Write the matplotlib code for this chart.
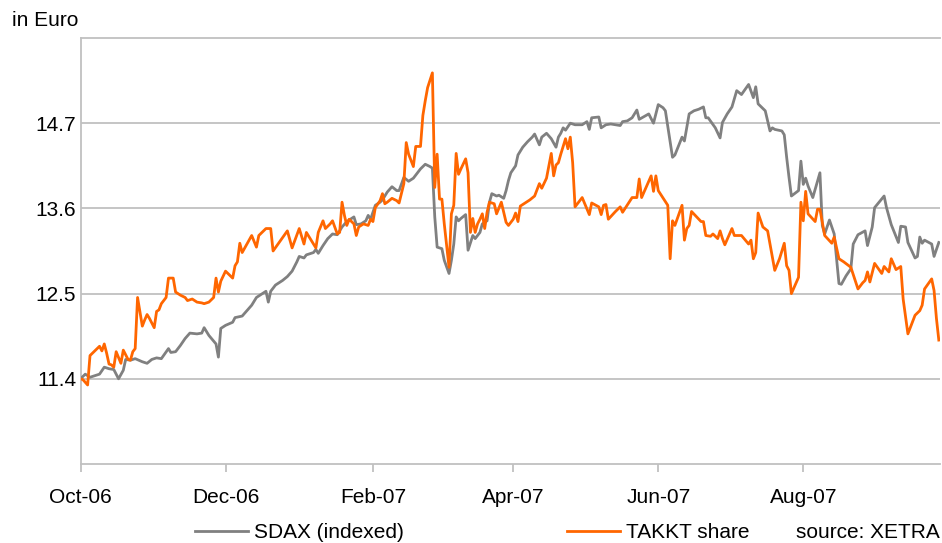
import matplotlib
matplotlib.use("Agg")
import matplotlib.pyplot as plt
import pandas as pd

plt.rcParams["font.family"] = ["Liberation Sans", "DejaVu Sans"]

# trading days, counted in days since 2006-10-01, and closing values (in Euro)
sdax_day = [0, 2, 4, 6, 8, 10, 12, 14, 16, 18, 19, 21, 23, 26, 28, 30, 32, 34, 37, 38,
            40, 42, 44, 46, 49, 51, 52, 54, 57, 58, 59, 61, 64, 65, 68, 70, 72, 74, 76, 78,
            79, 80, 82, 85, 87, 89, 91, 92, 94, 95, 98, 99, 100, 102, 104, 106, 108, 110, 112, 115,
            116, 118, 120, 121, 122, 124, 126, 127, 129, 131, 133, 134, 136, 138, 140, 141, 143, 145, 147, 148,
            149, 150, 152, 153, 155, 156, 157, 158, 159, 160, 162, 163, 165, 166, 168, 169, 171, 172, 173, 175,
            176, 178, 179, 180, 181, 183, 184, 186, 188, 190, 191, 193, 194, 196, 198, 200, 201, 202, 203, 204,
            206, 208, 211, 213, 214, 215, 218, 219, 221, 223, 227, 228, 230, 232, 234, 235, 239, 241, 243, 245,
            246, 249, 250, 253, 254, 256, 258, 260, 262, 263, 264, 267, 269, 270, 272, 274, 276, 278, 281, 283,
            284, 285, 288, 290, 291, 292, 295, 296, 297, 298, 299, 302, 303, 304, 305, 306, 308, 311, 312, 313,
            315, 317, 319, 320, 322, 324, 325, 327, 330, 331, 333, 334, 338, 339, 341, 344, 345, 347, 348, 351,
            352, 353, 354, 355, 358, 359, 361]
sdax_val = [11.40, 11.46, 11.42, 11.44, 11.46, 11.55, 11.53, 11.52, 11.40, 11.51, 11.65, 11.64, 11.66, 11.62, 11.60, 11.65, 11.67, 11.66, 11.79, 11.74,
            11.75, 11.83, 11.92, 11.99, 11.98, 11.99, 12.06, 11.96, 11.85, 11.68, 12.05, 12.09, 12.13, 12.19, 12.21, 12.28, 12.35, 12.45, 12.49, 12.53,
            12.39, 12.53, 12.61, 12.67, 12.72, 12.79, 12.91, 12.98, 12.96, 13.00, 13.03, 13.07, 13.02, 13.12, 13.21, 13.27, 13.26, 13.36, 13.43, 13.49,
            13.39, 13.40, 13.44, 13.51, 13.46, 13.64, 13.68, 13.71, 13.81, 13.88, 13.83, 13.83, 14.00, 13.95, 13.99, 14.03, 14.11, 14.17, 14.14, 14.12,
            13.49, 13.10, 13.08, 12.93, 12.76, 12.93, 13.14, 13.49, 13.44, 13.47, 13.52, 13.06, 13.25, 13.21, 13.29, 13.40, 13.44, 13.68, 13.79, 13.76,
            13.77, 13.73, 13.83, 13.96, 14.06, 14.15, 14.29, 14.39, 14.46, 14.52, 14.56, 14.42, 14.52, 14.57, 14.50, 14.39, 14.52, 14.57, 14.64, 14.61,
            14.70, 14.68, 14.68, 14.72, 14.62, 14.77, 14.78, 14.64, 14.68, 14.69, 14.67, 14.72, 14.73, 14.77, 14.87, 14.75, 14.82, 14.70, 14.94, 14.90,
            14.86, 14.26, 14.29, 14.52, 14.47, 14.82, 14.86, 14.88, 14.91, 14.77, 14.77, 14.64, 14.51, 14.71, 14.82, 14.91, 15.12, 15.07, 15.20, 15.03,
            15.17, 14.95, 14.86, 14.60, 14.64, 14.62, 14.60, 14.55, 14.26, 14.00, 13.76, 13.83, 14.21, 13.91, 13.99, 13.89, 13.74, 14.06, 13.38, 13.27,
            13.45, 13.27, 12.63, 12.62, 12.73, 12.82, 13.14, 13.26, 13.31, 13.12, 13.36, 13.61, 13.76, 13.61, 13.39, 13.16, 13.37, 13.36, 13.16, 12.96,
            12.98, 13.23, 13.15, 13.19, 13.14, 12.98, 13.16]

takkt_day = [0, 1, 3, 4, 5, 7, 8, 9, 10, 11, 12, 13, 14, 15, 17, 18, 20, 21, 22, 23,
             24, 26, 27, 28, 29, 31, 32, 33, 34, 36, 37, 39, 40, 42, 44, 45, 47, 49, 51, 52,
             54, 56, 57, 58, 59, 61, 64, 65, 66, 67, 68, 70, 72, 74, 75, 78, 80, 81, 87, 89,
             92, 94, 95, 97, 99, 100, 102, 103, 105, 106, 108, 109, 110, 111, 112, 113, 115, 116, 117, 119,
             121, 122, 123, 124, 126, 127, 128, 129, 131, 133, 134, 136, 137, 138, 140, 141, 143, 144, 145, 146,
             148, 149, 150, 151, 152, 153, 155, 156, 157, 158, 159, 160, 162, 163, 164, 165, 166, 167, 168, 169,
             170, 171, 172, 174, 175, 177, 179, 180, 182, 183, 184, 185, 187, 189, 191, 193, 194, 196, 198, 199,
             200, 201, 202, 204, 205, 206, 207, 208, 211, 214, 215, 218, 219, 220, 221, 222, 225, 227, 228, 232,
             234, 235, 236, 240, 241, 242, 243, 247, 248, 249, 250, 253, 254, 255, 256, 257, 261, 262, 263, 265,
             266, 268, 269, 270, 271, 274, 275, 278, 281, 282, 283, 284, 285, 287, 289, 291, 292, 294, 296, 297,
             298, 299, 302, 303, 304, 305, 306, 309, 310, 311, 313, 316, 317, 319, 321, 324, 327, 329, 330, 331,
             332, 334, 337, 338, 340, 341, 343, 345, 346, 348, 351, 353, 354, 355, 358, 359, 360, 361]
takkt_val = [11.40, 11.39, 11.32, 11.70, 11.73, 11.79, 11.82, 11.76, 11.85, 11.73, 11.59, 11.58, 11.55, 11.75, 11.60, 11.77, 11.65, 11.64, 11.75, 11.79,
             12.45, 12.08, 12.16, 12.23, 12.18, 12.06, 12.27, 12.29, 12.37, 12.45, 12.70, 12.70, 12.52, 12.48, 12.45, 12.41, 12.43, 12.39, 12.38, 12.37,
             12.39, 12.45, 12.70, 12.52, 12.66, 12.79, 12.70, 12.86, 12.91, 13.15, 13.03, 13.14, 13.25, 13.10, 13.25, 13.34, 13.34, 13.05, 13.31, 13.09,
             13.34, 13.14, 13.29, 13.19, 13.09, 13.29, 13.44, 13.34, 13.40, 13.44, 13.27, 13.29, 13.68, 13.51, 13.38, 13.46, 13.40, 13.25, 13.36, 13.40,
             13.38, 13.46, 13.43, 13.61, 13.70, 13.79, 13.66, 13.68, 13.73, 13.70, 13.67, 13.92, 14.45, 14.30, 14.14, 14.40, 14.40, 14.80, 14.99, 15.16,
             15.35, 13.87, 14.30, 13.72, 13.72, 13.40, 12.84, 13.53, 13.64, 14.31, 14.04, 14.11, 14.24, 14.06, 13.29, 13.47, 13.29, 13.40, 13.46, 13.53,
             13.34, 13.55, 13.68, 13.66, 13.53, 13.68, 13.42, 13.38, 13.46, 13.54, 13.43, 13.63, 13.67, 13.71, 13.76, 13.92, 13.86, 13.99, 14.31, 14.02,
             14.16, 14.19, 14.30, 14.50, 14.37, 14.52, 14.19, 13.62, 13.74, 13.52, 13.67, 13.62, 13.52, 13.64, 13.65, 13.46, 13.56, 13.62, 13.55, 13.74,
             13.74, 13.98, 13.74, 14.02, 13.82, 14.02, 13.83, 13.64, 12.95, 13.44, 13.38, 13.64, 13.19, 13.34, 13.38, 13.56, 13.43, 13.43, 13.25, 13.24,
             13.27, 13.21, 13.31, 13.21, 13.13, 13.34, 13.25, 13.25, 13.14, 13.19, 12.95, 13.03, 13.54, 13.36, 13.31, 12.97, 12.80, 12.95, 13.15, 12.86,
             12.80, 12.50, 12.71, 13.68, 13.44, 13.82, 13.53, 13.43, 13.59, 13.59, 13.25, 13.15, 13.23, 12.95, 12.91, 12.84, 12.56, 12.64, 12.67, 12.78,
             12.65, 12.89, 12.76, 12.85, 12.78, 12.95, 12.81, 12.85, 12.43, 11.98, 12.22, 12.28, 12.35, 12.56, 12.69, 12.54, 12.18, 11.90]

y_ticks = [11.4, 12.5, 13.6, 14.7]
x_ticks = ["2006-10-01", "2006-12-01", "2007-02-01", "2007-04-01", "2007-06-01", "2007-08-01"]
x_labels = ["Oct-06", "Dec-06", "Feb-07", "Apr-07", "Jun-07", "Aug-07"]

GREY_LINE = "#808080"
ORANGE = "#ff6600"
FRAME = "#c0c0c0"

base = pd.Timestamp("2006-10-01")
sdax_x = base + pd.to_timedelta(sdax_day, unit="D")
takkt_x = base + pd.to_timedelta(takkt_day, unit="D")

fig = plt.figure(figsize=(9.42, 5.43), dpi=100)
ax = fig.add_axes([80.5 / 942, 79 / 543, 859.5 / 942, 426 / 543])

l1, = ax.plot(sdax_x, sdax_val, color=GREY_LINE, lw=2.0, label="SDAX (indexed)", zorder=3)
l2, = ax.plot(takkt_x, takkt_val, color=ORANGE, lw=2.0, label="TAKKT share", zorder=4)

ax.set_xlim(base, base + pd.Timedelta(days=361.5))
ax.set_ylim(10.3, 15.8)
ax.set_yticks(y_ticks)
ax.set_yticklabels([f"{v:.1f}" for v in y_ticks])
ax.set_xticks(pd.to_datetime(x_ticks))
ax.set_xticklabels(x_labels)

ax.grid(axis="y", color=FRAME, lw=1.3, zorder=1)
for side in ["left", "bottom", "top"]:
    ax.spines[side].set_color(FRAME)
    ax.spines[side].set_linewidth(1.3)
ax.spines["right"].set_visible(False)

ax.tick_params(axis="y", length=0, pad=3, labelsize=15)
ax.tick_params(axis="x", length=6, width=1.3, color=FRAME, pad=11, labelsize=15)

fig.text(12 / 942, 1 - 20 / 543, "in Euro", fontsize=15, va="center", ha="left")
fig.text(940 / 942, 1 - 533 / 543, "source: XETRA", fontsize=15, va="center", ha="right")

fig.legend(handles=[l1, l2], loc="center left", bbox_to_anchor=(195 / 942, 1 - 533 / 543),
           ncol=2, frameon=False, fontsize=15, handlelength=2.55, handletextpad=0.3,
           columnspacing=7.8, borderpad=0, borderaxespad=0)

fig.savefig("out.png", dpi=100)
